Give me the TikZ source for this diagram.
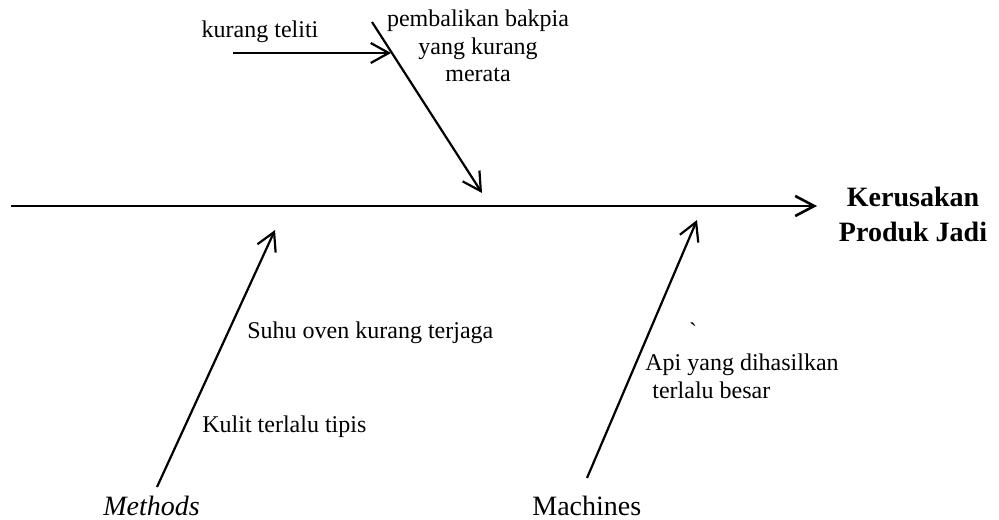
\documentclass[tikz,border=0pt]{standalone}
\usepackage{fontspec}
\setmainfont{Liberation Serif}
\usetikzlibrary{arrows.meta}
\begin{document}
\begin{tikzpicture}[x=0.5pt,y=-0.5pt,
  spine/.style={line width=1.4pt, -{Straight Barb[length=9.5pt,width=10pt,line width=1.3pt]}},
  bone/.style={line width=1.1pt, -{Straight Barb[length=9pt,width=10pt,line width=1.1pt]}},
  lbl/.style={inner sep=0pt, anchor=base, font=\fontsize{12}{14}\selectfont},
  lblw/.style={lbl, anchor=base west},
  cat/.style={inner sep=0pt, anchor=base west, font=\fontsize{14}{16}\selectfont},
  effect/.style={inner sep=0pt, anchor=base, font=\fontsize{14}{17}\selectfont\bfseries}]
\useasboundingbox (0,0) rectangle (999,519);

% spine
\coordinate (s0) at (11,206);
\coordinate (s1) at (817,206);
\draw[spine] (s0) -- (s1);
\node[effect] (eff1) at (913,206) {Kerusakan};
\node[effect] (eff2) at (913,241) {Produk Jadi};

% top bone
\coordinate (t0) at (372,22);
\coordinate (t1) at (482,193);
\draw[bone] (t0) -- (t1);
\coordinate (k0) at (233,53);
\coordinate (k1) at (391,53);
\draw[bone] (k0) -- (k1);
\node[lbl] (kt) at (260,38) {kurang teliti};
\node[lbl] (pb1) at (478,27) {pembalikan bakpia};
\node[lbl] (pb2) at (478,55) {yang kurang};
\node[lbl] (pb3) at (478,82) {merata};

% methods bone
\coordinate (m0) at (157,487);
\coordinate (m1) at (275,230);
\draw[bone] (m0) -- (m1);
\node[cat, font=\fontsize{14}{16}\selectfont\itshape] (meth) at (103,515) {Methods};
\node[lblw] (suhu) at (247,338) {Suhu oven kurang terjaga};
\node[lblw] (kulit) at (202,432) {Kulit terlalu tipis};

% machines bone
\coordinate (c0) at (587,478);
\coordinate (c1) at (697,220);
\draw[bone] (c0) -- (c1);
\node[cat] (mach) at (532,515) {Machines};
\node[lbl] (tick) at (693,339) {\textasciigrave};
\node[lblw] (api1) at (645,370) {Api yang dihasilkan};
\node[lblw] (api2) at (652,398) {terlalu besar};
\end{tikzpicture}
\end{document}
